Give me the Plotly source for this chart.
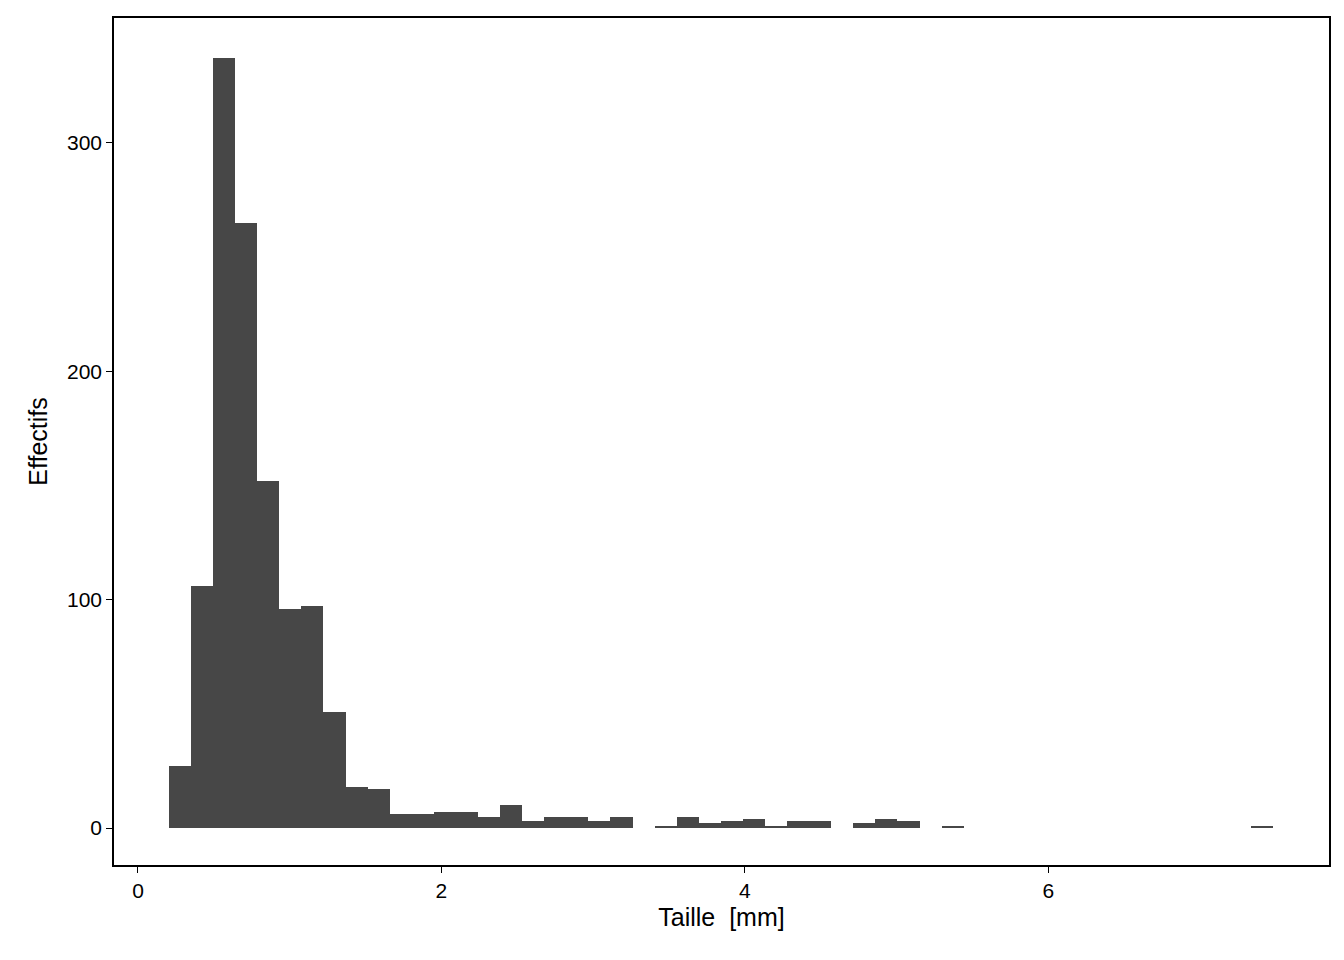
import plotly.graph_objects as go

bin_start = 0.204
bin_width = 0.1455
counts = [27,106,337,265,152,96,97,51,18,17,6,6,7,7,5,10,3,5,5,3,5,0,1,5,2,3,4,1,3,3,
          0,2,4,3,0,1,0,0,0,0,0,0,0,0,0,0,0,0,0,1]
centers = [bin_start + bin_width*(i+0.5) for i in range(len(counts))]

fig = go.Figure(go.Bar(x=centers, y=counts, width=bin_width, marker_color="#474747",
                       marker_line_width=0))
ax = dict(showline=True, linecolor="black", linewidth=1.5, mirror=True, ticks="outside",
          tickcolor="black", ticklen=6, showgrid=False, zeroline=False,
          tickfont=dict(size=21, color="black"), title_font=dict(size=25, color="black"))
fig.update_xaxes(range=[-0.158, 7.85], tickvals=[0,2,4,6], title_text="Taille  [mm]",
                 title_standoff=8, **ax)
fig.update_yaxes(range=[-16.2, 354.6], tickvals=[0,100,200,300], title_text="Effectifs",
                 title_standoff=12, **ax)
fig.update_layout(width=1336, height=952, plot_bgcolor="white", paper_bgcolor="white",
                  margin=dict(l=106, r=15, t=8, b=95), bargap=0,
                  font=dict(family="Liberation Sans, Arial, sans-serif"))
fig.write_html("out.html")
